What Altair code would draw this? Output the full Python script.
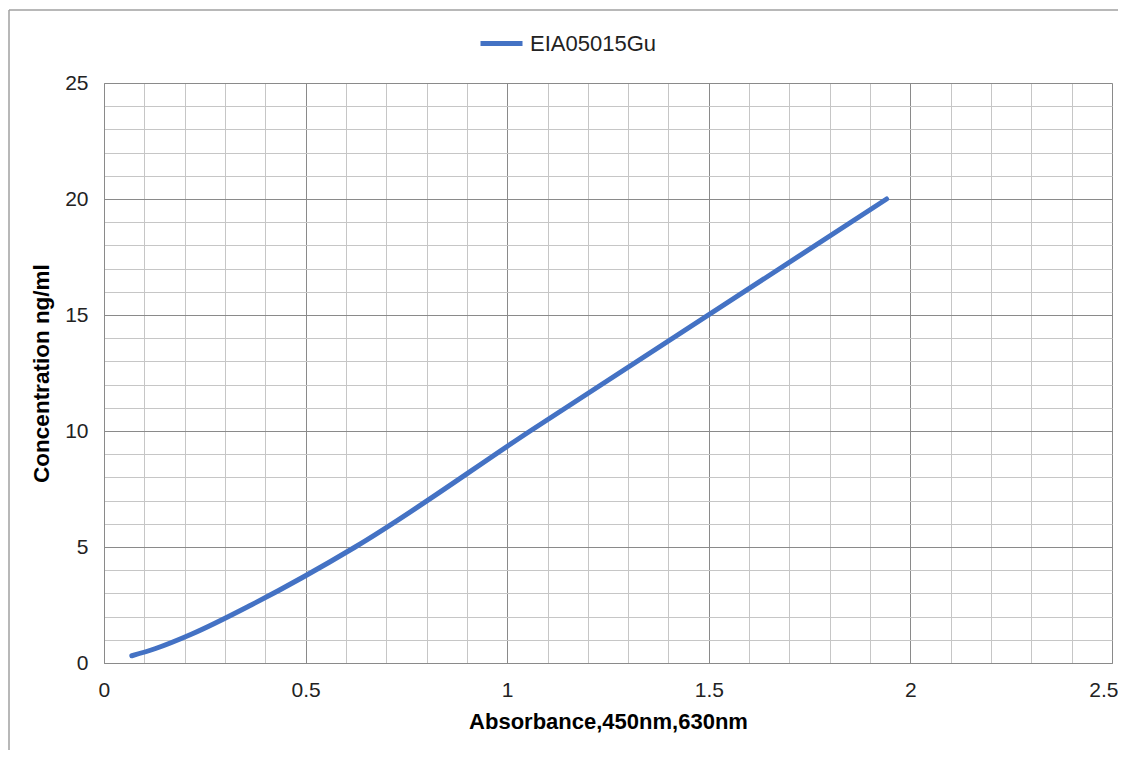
import altair as alt
import pandas as pd

# Data
absorbance = [0.069, 0.128, 0.218, 0.365, 0.623, 1.057, 1.941]
concentration = [0.312, 0.625, 1.25, 2.5, 5.0, 10.0, 20.0]
series_name = "EIA05015Gu"

x_ticks = [round(i * 0.1, 1) for i in range(26)]
y_ticks = list(range(26))

df = pd.DataFrame({"x": absorbance, "y": concentration, "series": series_name})

FONT = "Liberation Sans"
MAJOR = "#8a8a8a"
MINOR = "#c6c6c6"

x_axis = alt.Axis(
    values=x_ticks,
    grid=True,
    gridColor={"condition": {"test": "abs(datum.value*2 - round(datum.value*2)) < 0.001", "value": MAJOR}, "value": MINOR},
    gridWidth=1,
    ticks=False,
    domainColor=MAJOR,
    labelExpr="abs(datum.value*2 - round(datum.value*2)) < 0.001 ? format(datum.value, '~g') : ''",
    labelFont=FONT,
    labelFontSize=21,
    labelColor="#222222",
    labelPadding=16,
    labelFlush=True,
    labelFlushOffset=6,
    labelOverlap=False,
    title="Absorbance,450nm,630nm",
    titleFont=FONT,
    titleFontSize=22,
    titleFontWeight="bold",
    titleColor="#000000",
    titlePadding=11,
)

y_axis = alt.Axis(
    values=y_ticks,
    grid=True,
    gridColor={"condition": {"test": "datum.value % 5 === 0", "value": MAJOR}, "value": MINOR},
    gridWidth=1,
    ticks=False,
    domainColor=MAJOR,
    labelExpr="datum.value % 5 === 0 ? format(datum.value, '~g') : ''",
    labelFont=FONT,
    labelFontSize=21,
    labelColor="#222222",
    labelPadding=16,
    labelFlush=False,
    labelOverlap=False,
    title="Concentration ng/ml",
    titleFont=FONT,
    titleFontSize=22.5,
    titleFontWeight="bold",
    titleColor="#000000",
    titlePadding=11,
)

line = alt.Chart(df).mark_line(
    strokeWidth=5, interpolate="monotone", strokeCap="round"
).encode(
    x=alt.X("x:Q", scale=alt.Scale(domain=[0, 2.5], nice=False), axis=x_axis),
    y=alt.Y("y:Q", scale=alt.Scale(domain=[0, 25], nice=False), axis=y_axis),
    color=alt.Color(
        "series:N",
        scale=alt.Scale(domain=[series_name], range=["#4472C4"]),
        legend=alt.Legend(
            title=None,
            orient="none",
            legendX=374,
            legendY=-63,
            symbolType="stroke",
            symbolStrokeWidth=5,
            symbolSize=1764,
            labelFont=FONT,
            labelFontSize=22,
            labelColor="#222222",
            labelOffset=5,
        ),
    ),
)

frame_df = pd.DataFrame({"a": [0]})
top_border = alt.Chart(frame_df).mark_rule(color="#a0a0a0", strokeWidth=1.5).encode(
    x=alt.value(-95), x2=alt.value(1030), y=alt.value(-73)
)
left_border = alt.Chart(frame_df).mark_rule(color="#a0a0a0", strokeWidth=1.5).encode(
    x=alt.value(-95), y=alt.value(-73), y2=alt.value(700)
)

chart = alt.layer(top_border, left_border, line).properties(
    width=1008,
    height=580,
    autosize=alt.AutoSizeParams(type="none"),
    padding={"left": 96, "top": 75, "right": 6, "bottom": 87},
).configure_view(stroke=MAJOR, strokeWidth=1).configure(background="white")

chart.save("out.html", embed_options={"renderer": "svg", "actions": False})
